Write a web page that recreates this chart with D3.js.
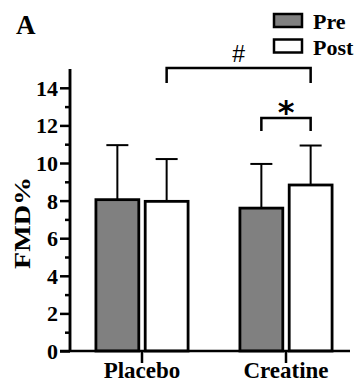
<!DOCTYPE html>
<html>
<head>
<meta charset="utf-8">
<script src="https://cdn.jsdelivr.net/npm/d3@7"></script>
<style>
  body { margin: 0; background: #fff; }
</style>
</head>
<body>
<div id="chart"></div>
<script>
const groups = ['Placebo', 'Creatine'];
const series = ['Pre', 'Post'];
const means = [[8.05, 7.96], [7.6, 8.83]];
const sds = [[2.9, 2.25], [2.35, 2.1]];
const yTicks = [0, 2, 4, 6, 8, 10, 12, 14];
const minorTicks = [1, 3, 5, 7, 9, 11, 13];
const colors = { Pre: '#808080', Post: '#ffffff' };
// significance brackets, in data units
const brackets = [
  { from: [0, 'Post'], to: [1, 'Post'], top: 15.05, leg: 14.25, label: '#' },
  { from: [1, 'Pre'], to: [1, 'Post'], top: 12.4, leg: 11.7, label: '*' },
];

const width = 356;
const height = 382;
const margin = { top: 69, left: 70, bottom: 31 };
const plotH = height - margin.top - margin.bottom;
const serif = '"Liberation Serif"';

const svg = d3.select('#chart')
  .append('svg')
  .attr('width', width)
  .attr('height', height)
  .attr('font-family', serif)
  .attr('font-weight', 'bold');

const x0 = d3.scaleBand()
  .domain(groups)
  .range([margin.left, 358])
  .paddingInner(0.36)
  .paddingOuter(0.18);

const x1 = d3.scaleBand()
  .domain(series)
  .range([0, x0.bandwidth()])
  .paddingInner(0.13);

const y = d3.scaleLinear()
  .domain([0, 15])
  .range([margin.top + plotH, margin.top]);

// bars + error bars (upper only)
const g = svg.append('g');
groups.forEach((grp, gi) => {
  series.forEach((s, si) => {
    const bx = x0(grp) + x1(s);
    const cx = bx + x1.bandwidth() / 2;
    const m = means[gi][si];
    const sd = sds[gi][si];
    g.append('line')
      .attr('x1', cx).attr('x2', cx)
      .attr('y1', y(m)).attr('y2', y(m + sd))
      .attr('stroke', '#000').attr('stroke-width', 2);
    g.append('line')
      .attr('x1', cx - 11).attr('x2', cx + 11)
      .attr('y1', y(m + sd)).attr('y2', y(m + sd))
      .attr('stroke', '#000').attr('stroke-width', 2);
    g.append('rect')
      .attr('x', bx)
      .attr('y', y(m))
      .attr('width', x1.bandwidth())
      .attr('height', y(0) - y(m))
      .attr('fill', colors[s])
      .attr('stroke', '#000')
      .attr('stroke-width', 2.8);
  });
});

// y axis
const yAxis = svg.append('g')
  .attr('transform', `translate(${margin.left},0)`)
  .call(d3.axisLeft(y).tickValues(yTicks).tickSize(10).tickPadding(2));
yAxis.append('g')
  .call(d3.axisLeft(y).tickValues(minorTicks).tickSize(5).tickFormat(''));
yAxis.selectAll('path.domain').attr('stroke-width', 2.5).attr('d', `M0,${y(0)}V${y(15)}`);
yAxis.selectAll('line').attr('stroke-width', 2.5);
yAxis.attr('font-family', serif).attr('font-weight', 'bold');
yAxis.selectAll('text')
  .attr('font-family', serif)
  .attr('font-size', 22)
  .attr('dy', '0.34em');

// x axis
const xAxis = svg.append('g')
  .attr('transform', `translate(0,${y(0)})`)
  .call(d3.axisBottom(x0).tickSize(12).tickPadding(2));
xAxis.select('path.domain').attr('d', 'M60,0H350').attr('stroke-width', 2.5);
xAxis.selectAll('line').attr('stroke-width', 2.5);
xAxis.attr('font-family', serif).attr('font-weight', 'bold');
xAxis.selectAll('text')
  .attr('font-family', serif)
  .attr('font-size', 23)
  .attr('dy', '0.58em');

// y label
svg.append('text')
  .attr('transform', `translate(30,${(y(0) + y(15)) / 2 + 13}) rotate(-90)`)
  .attr('text-anchor', 'middle')
  .attr('textLength', 92)
  .attr('lengthAdjust', 'spacingAndGlyphs')
  .attr('font-family', serif)
  .attr('font-size', 23)
  .text('FMD%');

// panel letter
svg.append('text')
  .attr('x', 16).attr('y', 34)
  .attr('font-family', serif)
  .attr('font-size', 27)
  .text('A');

// legend
series.forEach((s, i) => {
  svg.append('rect')
    .attr('x', 274).attr('y', 14 + i * 25.5)
    .attr('width', 28).attr('height', 13)
    .attr('fill', colors[s])
    .attr('stroke', '#000').attr('stroke-width', 2.5);
  svg.append('text')
    .attr('x', 313).attr('y', 29 + i * 25.5)
    .attr('font-family', serif)
    .attr('font-size', 22)
    .text(s);
});

// significance brackets
brackets.forEach((b) => {
  const xa = x0(groups[b.from[0]]) + x1(b.from[1]) + x1.bandwidth() / 2;
  const xb = x0(groups[b.to[0]]) + x1(b.to[1]) + x1.bandwidth() / 2;
  svg.append('path')
    .attr('d', `M${xa},${y(b.leg)}V${y(b.top)}H${xb}V${y(b.leg)}`)
    .attr('fill', 'none')
    .attr('stroke', '#000')
    .attr('stroke-width', 2.5);
  const star = b.label === '*';
  svg.append('text')
    .attr('x', (xa + xb) / 2)
    .attr('y', star ? y(b.top) + 5 : y(b.top) - 6)
    .attr('text-anchor', 'middle')
    .attr('font-family', star ? '"DejaVu Sans"' : '"Liberation Sans"')
    .attr('font-weight', star ? 'bold' : 'normal')
    .attr('font-size', star ? 32 : 23)
    .text(b.label);
});
</script>
</body>
</html>
